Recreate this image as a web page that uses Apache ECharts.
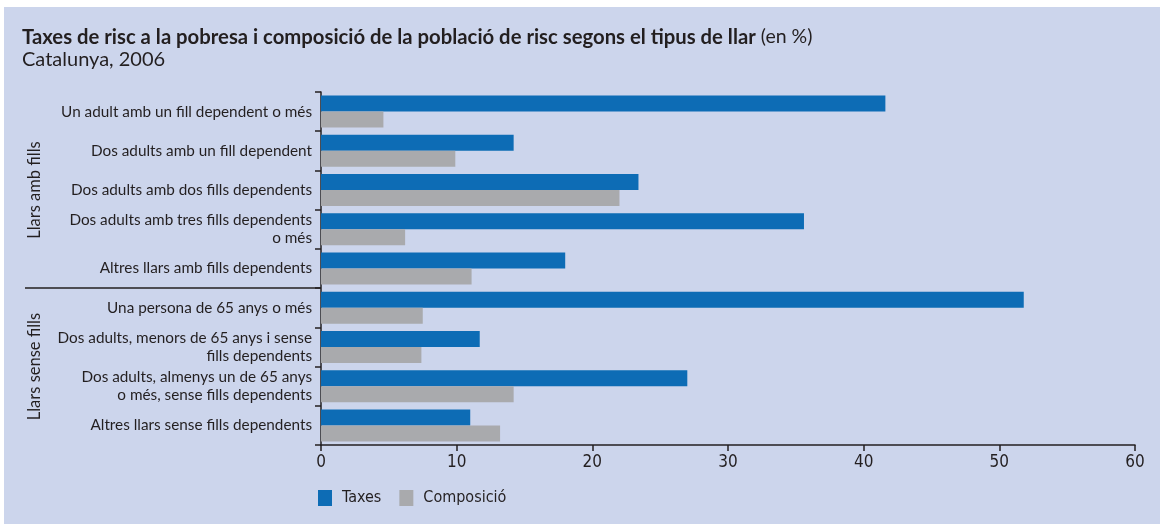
<!DOCTYPE html>
<html>
<head>
<meta charset="utf-8">
<script src="https://cdn.jsdelivr.net/npm/echarts@6/dist/echarts.min.js"></script>
<style>
html,body{margin:0;padding:0;background:#ffffff;}
#panel{position:absolute;left:4px;top:7px;width:1156px;height:517px;background:#CCD5EC;}
#chart{position:absolute;left:0;top:0;width:1160px;height:524px;}
</style>
</head>
<body>
<div id="panel"></div>
<div id="chart"></div>
<script>
const categories = [
  "Un adult amb un fill dependent o més",
  "Dos adults amb un fill dependent",
  "Dos adults amb dos fills dependents",
  "Dos adults amb tres fills dependents\no més",
  "Altres llars amb fills dependents",
  "Una persona de 65 anys o més",
  "Dos adults, menors de 65 anys i sense\nfills dependents",
  "Dos adults, almenys un de 65 anys\no més, sense fills dependents",
  "Altres llars sense fills dependents"
];
const taxes =      [41.6, 14.2, 23.4, 35.6, 18.0, 51.8, 11.7, 27.0, 11.0];
const composicio = [4.6, 9.9, 22.0, 6.2, 11.1, 7.5, 7.4, 14.2, 13.2];
const groups = [
  { name: "Llars amb fills", from: 0, to: 4 },
  { name: "Llars sense fills", from: 5, to: 8 }
];
const seriesNames = ["Taxes", "Composició"];
const xTicks = { min: 0, max: 60, interval: 10 };

const TXT = '#231F20';
const labelFont = 'Lato, "Open Sans", sans-serif';
const narrowFont = '"Liberation Sans Narrow", "DejaVu Sans Condensed", sans-serif';

const chart = echarts.init(document.getElementById('chart'), null, { renderer: 'canvas' });
const option = {
  backgroundColor: 'transparent',
  animation: false,
  title: [{
    left: 17, top: 22,
    text: '{b|Taxes de risc a la pobresa i composició de la població de risc segons el tipus de llar}{n| (en %)}',
    textStyle: {
      rich: {
        b: { fontFamily: labelFont, fontWeight: 'bold', fontSize: 20.3, color: TXT },
        n: { fontFamily: labelFont, fontWeight: 'normal', fontSize: 19.5, color: TXT }
      }
    }
  }, {
    left: 17, top: 45,
    text: 'Catalunya, 2006',
    textStyle: { fontFamily: labelFont, fontWeight: 'normal', fontSize: 20, color: TXT }
  }],
  legend: {
    left: 313, top: 485,
    itemWidth: 14, itemHeight: 16, itemGap: 18,
    icon: 'rect',
    textStyle: { fontFamily: narrowFont, fontSize: 16, color: TXT, padding: [0, 0, 0, 5] },
    data: seriesNames
  },
  grid: { left: 321, right: 25, top: 92, bottom: 79, containLabel: false },
  xAxis: {
    type: 'value',
    min: xTicks.min, max: xTicks.max, interval: xTicks.interval,
    splitLine: { show: false },
    axisLine: { show: true, lineStyle: { color: TXT, width: 1.5 } },
    axisTick: { show: true, length: 6, lineStyle: { color: TXT, width: 1.5 } },
    axisLabel: { fontFamily: narrowFont, fontSize: 17, color: TXT, margin: 9 }
  },
  yAxis: {
    type: 'category',
    inverse: true,
    data: categories,
    axisLine: { show: true, lineStyle: { color: TXT, width: 1.5 } },
    axisTick: { show: true, length: 6, lineStyle: { color: TXT, width: 1.5 } },
    axisLabel: { fontFamily: labelFont, fontSize: 15.3, color: TXT, margin: 9, lineHeight: 18, align: 'right' }
  },
  series: [{
    name: seriesNames[0], type: 'bar', data: taxes,
    barWidth: 16, barGap: '0%',
    itemStyle: { color: '#0D6CB5' }
  }, {
    name: seriesNames[1], type: 'bar', data: composicio,
    barWidth: 16, barGap: '0%',
    itemStyle: { color: '#A9AAAD' }
  }]
};
chart.setOption(option);

function addGroups() {
  const px = (i) => chart.convertToPixel({ yAxisIndex: 0 }, i);
  const band = px(1) - px(0);
  const x0 = chart.convertToPixel({ xAxisIndex: 0 }, 0);
  const els = [];
  groups.forEach((g, k) => {
    const top = px(g.from) - band / 2;
    const bottom = px(g.to) + band / 2;
    els.push({
      type: 'text',
      x: 35, y: (top + bottom) / 2,
      rotation: Math.PI / 2,
      style: {
        text: g.name, fontFamily: labelFont, fontSize: 16.5, fill: TXT,
        align: 'center', verticalAlign: 'middle'
      }
    });
    if (k < groups.length - 1) {
      els.push({
        type: 'line',
        shape: { x1: 25, y1: bottom, x2: x0, y2: bottom },
        style: { stroke: TXT, lineWidth: 1.5 }
      });
    }
  });
  chart.setOption({ graphic: els });
}
addGroups();
</script>
</body>
</html>
